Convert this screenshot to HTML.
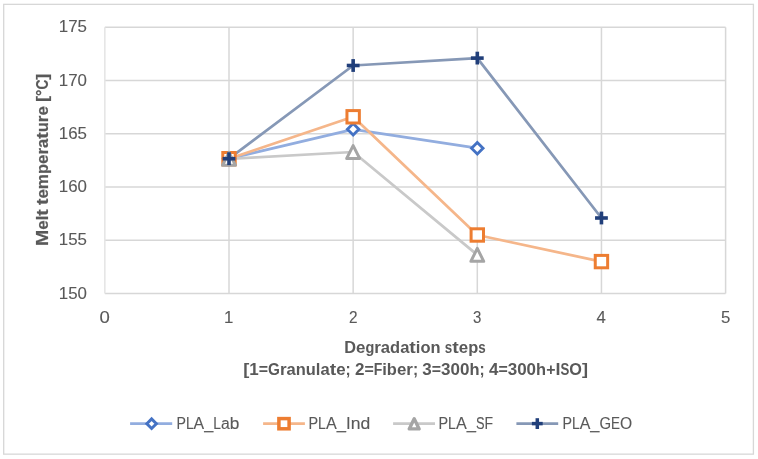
<!DOCTYPE html>
<html><head><meta charset="utf-8"><style>
html,body{margin:0;padding:0;background:#fff;}
body{width:758px;height:459px;overflow:hidden;}
svg{display:block;filter:blur(0.3px);}
.tx{opacity:0.999;}
.tx text{font-family:"Liberation Sans",sans-serif;fill:#595959;stroke:#595959;stroke-width:0.12px;}
</style></head><body>
<svg width="758" height="459" viewBox="0 0 758 459">
<rect x="3.7" y="4.35" width="749.7" height="449.8" fill="#fff" stroke="#d7d7d7" stroke-width="1.3"/>
<line x1="104.85" y1="27.15" x2="725.60" y2="27.15" stroke="#d7d7d7" stroke-width="1.5"/>
<line x1="104.85" y1="80.40" x2="725.60" y2="80.40" stroke="#d7d7d7" stroke-width="1.5"/>
<line x1="104.85" y1="133.65" x2="725.60" y2="133.65" stroke="#d7d7d7" stroke-width="1.5"/>
<line x1="104.85" y1="186.90" x2="725.60" y2="186.90" stroke="#d7d7d7" stroke-width="1.5"/>
<line x1="104.85" y1="240.15" x2="725.60" y2="240.15" stroke="#d7d7d7" stroke-width="1.5"/>
<line x1="104.85" y1="293.40" x2="725.60" y2="293.40" stroke="#d7d7d7" stroke-width="1.5"/>
<line x1="104.85" y1="27.15" x2="104.85" y2="293.40" stroke="#e4e4e4" stroke-width="1.5"/>
<line x1="229.00" y1="27.15" x2="229.00" y2="293.40" stroke="#d7d7d7" stroke-width="1.5"/>
<line x1="353.15" y1="27.15" x2="353.15" y2="293.40" stroke="#d7d7d7" stroke-width="1.5"/>
<line x1="477.30" y1="27.15" x2="477.30" y2="293.40" stroke="#d7d7d7" stroke-width="1.5"/>
<line x1="601.45" y1="27.15" x2="601.45" y2="293.40" stroke="#d7d7d7" stroke-width="1.5"/>
<line x1="725.60" y1="27.15" x2="725.60" y2="293.40" stroke="#d7d7d7" stroke-width="1.5"/>
<g class="tx">
<text x="58.80" y="32.35" style="font-size:16.8px;" textLength="28.20" lengthAdjust="spacingAndGlyphs">175</text>
<text x="58.80" y="85.60" style="font-size:16.8px;" textLength="28.20" lengthAdjust="spacingAndGlyphs">170</text>
<text x="58.80" y="138.85" style="font-size:16.8px;" textLength="28.20" lengthAdjust="spacingAndGlyphs">165</text>
<text x="58.80" y="192.10" style="font-size:16.8px;" textLength="28.20" lengthAdjust="spacingAndGlyphs">160</text>
<text x="58.80" y="245.35" style="font-size:16.8px;" textLength="28.20" lengthAdjust="spacingAndGlyphs">155</text>
<text x="58.80" y="298.60" style="font-size:16.8px;" textLength="28.20" lengthAdjust="spacingAndGlyphs">150</text>
<text x="99.50" y="323.00" style="font-size:16.8px;" textLength="10.34" lengthAdjust="spacingAndGlyphs">0</text>
<text x="224.00" y="323.00" style="font-size:16.8px;" textLength="9.34" lengthAdjust="spacingAndGlyphs">1</text>
<text x="348.90" y="323.00" style="font-size:16.8px;" textLength="8.54" lengthAdjust="spacingAndGlyphs">2</text>
<text x="473.00" y="323.00" style="font-size:16.8px;" textLength="8.34" lengthAdjust="spacingAndGlyphs">3</text>
<text x="596.50" y="323.00" style="font-size:16.8px;" textLength="9.34" lengthAdjust="spacingAndGlyphs">4</text>
<text x="721.00" y="323.00" style="font-size:16.8px;" textLength="9.34" lengthAdjust="spacingAndGlyphs">5</text>
<text y="352.60" style="font-size:15.8px;font-weight:bold;stroke-width:0px;"><tspan x="344.20" textLength="11.78" lengthAdjust="spacingAndGlyphs">D</tspan><tspan x="355.98" textLength="9.40" lengthAdjust="spacingAndGlyphs">e</tspan><tspan x="365.38" textLength="8.86" lengthAdjust="spacingAndGlyphs">g</tspan><tspan x="374.25" textLength="6.64" lengthAdjust="spacingAndGlyphs">r</tspan><tspan x="380.88" textLength="9.24" lengthAdjust="spacingAndGlyphs">a</tspan><tspan x="390.12" textLength="10.04" lengthAdjust="spacingAndGlyphs">d</tspan><tspan x="400.16" textLength="9.24" lengthAdjust="spacingAndGlyphs">a</tspan><tspan x="409.39" textLength="6.49" lengthAdjust="spacingAndGlyphs">t</tspan><tspan x="415.88" textLength="4.60" lengthAdjust="spacingAndGlyphs">i</tspan><tspan x="420.48" textLength="10.06" lengthAdjust="spacingAndGlyphs">o</tspan><tspan x="430.54" textLength="10.04" lengthAdjust="spacingAndGlyphs">n</tspan><tspan x="444.81" textLength="7.46" lengthAdjust="spacingAndGlyphs">s</tspan><tspan x="452.27" textLength="6.49" lengthAdjust="spacingAndGlyphs">t</tspan><tspan x="458.75" textLength="9.40" lengthAdjust="spacingAndGlyphs">e</tspan><tspan x="468.16" textLength="10.04" lengthAdjust="spacingAndGlyphs">p</tspan><tspan x="478.20" textLength="7.46" lengthAdjust="spacingAndGlyphs">s</tspan></text>
<text y="375.10" style="font-size:15.8px;font-weight:bold;stroke-width:0px;"><tspan x="243.20" textLength="6.07" lengthAdjust="spacingAndGlyphs">[</tspan><tspan x="249.27" textLength="9.47" lengthAdjust="spacingAndGlyphs">1</tspan><tspan x="258.74" textLength="9.30" lengthAdjust="spacingAndGlyphs">=</tspan><tspan x="268.05" textLength="11.90" lengthAdjust="spacingAndGlyphs">G</tspan><tspan x="279.95" textLength="6.63" lengthAdjust="spacingAndGlyphs">r</tspan><tspan x="286.58" textLength="9.23" lengthAdjust="spacingAndGlyphs">a</tspan><tspan x="295.81" textLength="10.03" lengthAdjust="spacingAndGlyphs">n</tspan><tspan x="305.84" textLength="10.03" lengthAdjust="spacingAndGlyphs">u</tspan><tspan x="315.87" textLength="4.60" lengthAdjust="spacingAndGlyphs">l</tspan><tspan x="320.46" textLength="9.23" lengthAdjust="spacingAndGlyphs">a</tspan><tspan x="329.69" textLength="6.48" lengthAdjust="spacingAndGlyphs">t</tspan><tspan x="336.17" textLength="9.40" lengthAdjust="spacingAndGlyphs">e</tspan><tspan x="345.57" textLength="5.16" lengthAdjust="spacingAndGlyphs">;</tspan><tspan x="354.95" textLength="9.47" lengthAdjust="spacingAndGlyphs">2</tspan><tspan x="364.42" textLength="9.30" lengthAdjust="spacingAndGlyphs">=</tspan><tspan x="373.72" textLength="8.57" lengthAdjust="spacingAndGlyphs">F</tspan><tspan x="382.30" textLength="4.60" lengthAdjust="spacingAndGlyphs">i</tspan><tspan x="386.89" textLength="10.03" lengthAdjust="spacingAndGlyphs">b</tspan><tspan x="396.92" textLength="9.40" lengthAdjust="spacingAndGlyphs">e</tspan><tspan x="406.32" textLength="6.63" lengthAdjust="spacingAndGlyphs">r</tspan><tspan x="412.95" textLength="5.16" lengthAdjust="spacingAndGlyphs">;</tspan><tspan x="422.33" textLength="9.47" lengthAdjust="spacingAndGlyphs">3</tspan><tspan x="431.80" textLength="9.30" lengthAdjust="spacingAndGlyphs">=</tspan><tspan x="441.10" textLength="9.47" lengthAdjust="spacingAndGlyphs">3</tspan><tspan x="450.58" textLength="9.47" lengthAdjust="spacingAndGlyphs">0</tspan><tspan x="460.05" textLength="9.47" lengthAdjust="spacingAndGlyphs">0</tspan><tspan x="469.52" textLength="10.03" lengthAdjust="spacingAndGlyphs">h</tspan><tspan x="479.55" textLength="5.16" lengthAdjust="spacingAndGlyphs">;</tspan><tspan x="488.93" textLength="9.47" lengthAdjust="spacingAndGlyphs">4</tspan><tspan x="498.40" textLength="9.30" lengthAdjust="spacingAndGlyphs">=</tspan><tspan x="507.70" textLength="9.47" lengthAdjust="spacingAndGlyphs">3</tspan><tspan x="517.17" textLength="9.47" lengthAdjust="spacingAndGlyphs">0</tspan><tspan x="526.64" textLength="9.47" lengthAdjust="spacingAndGlyphs">0</tspan><tspan x="536.12" textLength="10.03" lengthAdjust="spacingAndGlyphs">h</tspan><tspan x="546.15" textLength="9.30" lengthAdjust="spacingAndGlyphs">+</tspan><tspan x="555.45" textLength="4.99" lengthAdjust="spacingAndGlyphs">I</tspan><tspan x="560.44" textLength="8.84" lengthAdjust="spacingAndGlyphs">S</tspan><tspan x="569.27" textLength="12.63" lengthAdjust="spacingAndGlyphs">O</tspan><tspan x="581.90" textLength="6.07" lengthAdjust="spacingAndGlyphs">]</tspan></text>
<text transform="translate(47.60,246.00) rotate(-90)" y="0" style="font-size:15.9px;font-weight:bold;stroke-width:0.2px;"><tspan x="0.00" textLength="16.32" lengthAdjust="spacingAndGlyphs">M</tspan><tspan x="16.32" textLength="9.39" lengthAdjust="spacingAndGlyphs">e</tspan><tspan x="25.71" textLength="4.59" lengthAdjust="spacingAndGlyphs">l</tspan><tspan x="30.30" textLength="6.48" lengthAdjust="spacingAndGlyphs">t</tspan><tspan x="41.00" textLength="6.48" lengthAdjust="spacingAndGlyphs">t</tspan><tspan x="47.48" textLength="9.39" lengthAdjust="spacingAndGlyphs">e</tspan><tspan x="56.87" textLength="15.18" lengthAdjust="spacingAndGlyphs">m</tspan><tspan x="72.05" textLength="10.03" lengthAdjust="spacingAndGlyphs">p</tspan><tspan x="82.07" textLength="9.39" lengthAdjust="spacingAndGlyphs">e</tspan><tspan x="91.46" textLength="6.63" lengthAdjust="spacingAndGlyphs">r</tspan><tspan x="98.09" textLength="9.22" lengthAdjust="spacingAndGlyphs">a</tspan><tspan x="107.32" textLength="6.48" lengthAdjust="spacingAndGlyphs">t</tspan><tspan x="113.79" textLength="10.03" lengthAdjust="spacingAndGlyphs">u</tspan><tspan x="123.82" textLength="6.63" lengthAdjust="spacingAndGlyphs">r</tspan><tspan x="130.45" textLength="9.39" lengthAdjust="spacingAndGlyphs">e</tspan><tspan x="144.06" textLength="6.07" lengthAdjust="spacingAndGlyphs">[</tspan><tspan x="150.13" textLength="6.39" lengthAdjust="spacingAndGlyphs">°</tspan><tspan x="156.51" textLength="9.88" lengthAdjust="spacingAndGlyphs">C</tspan><tspan x="166.39" textLength="6.07" lengthAdjust="spacingAndGlyphs">]</tspan></text>
<text y="429.00" style="font-size:16px;"><tspan x="176.50" textLength="9.44" lengthAdjust="spacingAndGlyphs">P</tspan><tspan x="185.94" textLength="7.67" lengthAdjust="spacingAndGlyphs">L</tspan><tspan x="193.61" textLength="10.57" lengthAdjust="spacingAndGlyphs">A</tspan><tspan x="204.19" textLength="9.09" lengthAdjust="spacingAndGlyphs">_</tspan><tspan x="213.28" textLength="7.67" lengthAdjust="spacingAndGlyphs">L</tspan><tspan x="220.95" textLength="8.75" lengthAdjust="spacingAndGlyphs">a</tspan><tspan x="229.70" textLength="9.59" lengthAdjust="spacingAndGlyphs">b</tspan></text>
<text y="429.00" style="font-size:16px;"><tspan x="308.50" textLength="9.62" lengthAdjust="spacingAndGlyphs">P</tspan><tspan x="318.12" textLength="7.82" lengthAdjust="spacingAndGlyphs">L</tspan><tspan x="325.94" textLength="10.78" lengthAdjust="spacingAndGlyphs">A</tspan><tspan x="336.71" textLength="9.27" lengthAdjust="spacingAndGlyphs">_</tspan><tspan x="345.98" textLength="4.69" lengthAdjust="spacingAndGlyphs">I</tspan><tspan x="350.67" textLength="9.77" lengthAdjust="spacingAndGlyphs">n</tspan><tspan x="360.44" textLength="9.77" lengthAdjust="spacingAndGlyphs">d</tspan></text>
<text y="429.00" style="font-size:16px;"><tspan x="438.50" textLength="9.62" lengthAdjust="spacingAndGlyphs">P</tspan><tspan x="448.12" textLength="7.81" lengthAdjust="spacingAndGlyphs">L</tspan><tspan x="455.93" textLength="10.77" lengthAdjust="spacingAndGlyphs">A</tspan><tspan x="466.70" textLength="9.26" lengthAdjust="spacingAndGlyphs">_</tspan><tspan x="475.96" textLength="8.54" lengthAdjust="spacingAndGlyphs">S</tspan><tspan x="484.50" textLength="8.54" lengthAdjust="spacingAndGlyphs">F</tspan></text>
<text y="429.00" style="font-size:16px;"><tspan x="562.50" textLength="9.49" lengthAdjust="spacingAndGlyphs">P</tspan><tspan x="571.99" textLength="7.71" lengthAdjust="spacingAndGlyphs">L</tspan><tspan x="579.70" textLength="10.63" lengthAdjust="spacingAndGlyphs">A</tspan><tspan x="590.32" textLength="9.14" lengthAdjust="spacingAndGlyphs">_</tspan><tspan x="599.46" textLength="11.58" lengthAdjust="spacingAndGlyphs">G</tspan><tspan x="611.05" textLength="8.96" lengthAdjust="spacingAndGlyphs">E</tspan><tspan x="620.00" textLength="12.15" lengthAdjust="spacingAndGlyphs">O</tspan></text>
</g>
<polyline points="229.00,158.70 353.15,129.30 477.30,148.20" fill="none" stroke="#92addf" stroke-width="2.75" stroke-linejoin="round" stroke-linecap="round"/>
<polyline points="229.00,158.70 353.15,116.80 477.30,235.00 601.45,261.60" fill="none" stroke="#f5b68a" stroke-width="2.75" stroke-linejoin="round" stroke-linecap="round"/>
<polyline points="229.00,158.80 353.15,152.00 477.30,254.85" fill="none" stroke="#c9c9c9" stroke-width="2.75" stroke-linejoin="round" stroke-linecap="round"/>
<polyline points="229.00,158.70 353.15,65.50 477.30,58.10 601.45,218.00" fill="none" stroke="#8698b6" stroke-width="2.75" stroke-linejoin="round" stroke-linecap="round"/>
<path d="M223.25,158.70 L229.00,152.95 L234.75,158.70 L229.00,164.45 Z" fill="#fff" stroke="#4472c4" stroke-width="2.85" stroke-linejoin="miter"/>
<path d="M347.40,129.30 L353.15,123.55 L358.90,129.30 L353.15,135.05 Z" fill="#fff" stroke="#4472c4" stroke-width="2.85" stroke-linejoin="miter"/>
<path d="M471.55,148.20 L477.30,142.45 L483.05,148.20 L477.30,153.95 Z" fill="#fff" stroke="#4472c4" stroke-width="2.85" stroke-linejoin="miter"/>
<rect x="222.80" y="152.50" width="12.40" height="12.40" fill="#fff" stroke="#ed7d31" stroke-width="3.0"/>
<rect x="346.95" y="110.60" width="12.40" height="12.40" fill="#fff" stroke="#ed7d31" stroke-width="3.0"/>
<rect x="471.10" y="228.80" width="12.40" height="12.40" fill="#fff" stroke="#ed7d31" stroke-width="3.0"/>
<rect x="595.25" y="255.40" width="12.40" height="12.40" fill="#fff" stroke="#ed7d31" stroke-width="3.0"/>
<path d="M229.00,152.35 L235.45,165.25 L222.55,165.25 Z" fill="#fff" stroke="#a5a5a5" stroke-width="3.0" stroke-linejoin="round"/>
<path d="M353.15,145.55 L359.60,158.45 L346.70,158.45 Z" fill="#fff" stroke="#a5a5a5" stroke-width="3.0" stroke-linejoin="round"/>
<path d="M477.30,248.40 L483.75,261.30 L470.85,261.30 Z" fill="#fff" stroke="#a5a5a5" stroke-width="3.0" stroke-linejoin="round"/>
<rect x="222.60" y="156.90" width="12.80" height="3.60" fill="#213f7a"/><rect x="227.20" y="152.30" width="3.60" height="12.80" fill="#213f7a"/>
<rect x="346.75" y="63.70" width="12.80" height="3.60" fill="#213f7a"/><rect x="351.35" y="59.10" width="3.60" height="12.80" fill="#213f7a"/>
<rect x="470.90" y="56.30" width="12.80" height="3.60" fill="#213f7a"/><rect x="475.50" y="51.70" width="3.60" height="12.80" fill="#213f7a"/>
<rect x="595.05" y="216.20" width="12.80" height="3.60" fill="#213f7a"/><rect x="599.65" y="211.60" width="3.60" height="12.80" fill="#213f7a"/>
<line x1="130.1" y1="423.7" x2="172.2" y2="423.7" stroke="#92addf" stroke-width="2.75"/>
<path d="M146.85,423.70 L151.60,418.95 L156.35,423.70 L151.60,428.45 Z" fill="#fff" stroke="#4472c4" stroke-width="3.0" stroke-linejoin="miter"/>
<line x1="263.1" y1="423.7" x2="304.9" y2="423.7" stroke="#f5b68a" stroke-width="2.75"/>
<rect x="278.90" y="418.60" width="10.20" height="10.20" fill="#fff" stroke="#ed7d31" stroke-width="3.5"/>
<line x1="393.1" y1="423.7" x2="435.0" y2="423.7" stroke="#c9c9c9" stroke-width="2.75"/>
<path d="M414.20,418.70 L419.15,428.90 L409.25,428.90 Z" fill="#fff" stroke="#a5a5a5" stroke-width="3.4" stroke-linejoin="round"/>
<line x1="516.4" y1="423.7" x2="558.2" y2="423.7" stroke="#8698b6" stroke-width="2.75"/>
<rect x="531.90" y="421.85" width="10.80" height="3.50" fill="#213f7a"/><rect x="535.55" y="418.20" width="3.50" height="10.80" fill="#213f7a"/>
</svg>
</body></html>
